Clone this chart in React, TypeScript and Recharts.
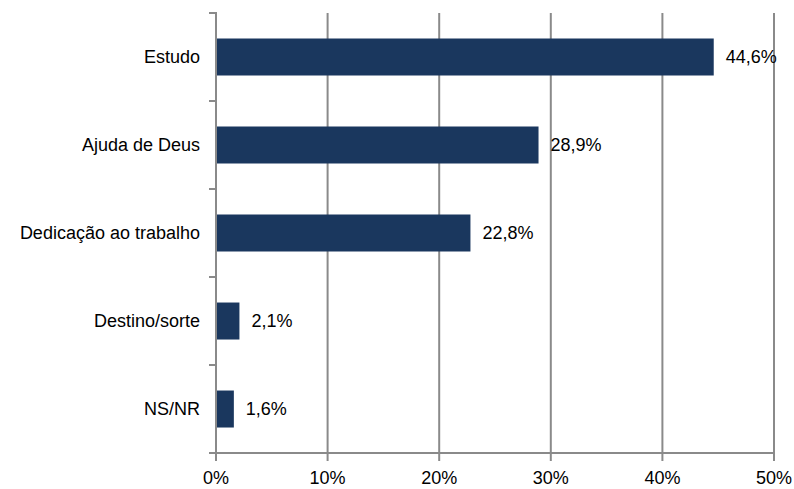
import React from "react";
import {
  BarChart,
  Bar,
  XAxis,
  YAxis,
  CartesianGrid,
  LabelList,
} from "recharts";

const categories = [
  "Estudo",
  "Ajuda de Deus",
  "Dedicação ao trabalho",
  "Destino/sorte",
  "NS/NR",
];
const values = [44.6, 28.9, 22.8, 2.1, 1.6];
const xTicks = [0, 10, 20, 30, 40, 50];

const data = categories.map((name, i) => ({ name, value: values[i] }));

const WIDTH = 794;
const HEIGHT = 489;
const MARGIN = { top: 13, right: 20, bottom: 0, left: 0 };
const X_AXIS_HEIGHT = 36;
const BAND = (HEIGHT - MARGIN.top - X_AXIS_HEIGHT) / categories.length;

const FONT = "'Liberation Sans', Arial, sans-serif";
const AXIS_COLOR = "#8a8a8a";
const BAR_COLOR = "#1a375e";

const fmt = (v: number) => `${v.toFixed(1).replace(".", ",")}%`;

function CategoryTick(props: any) {
  const { x, y, payload, index } = props;
  const axisX = x + 9;
  return (
    <g>
      <line x1={axisX - 8} x2={axisX} y1={y - BAND / 2} y2={y - BAND / 2} stroke={AXIS_COLOR} strokeWidth={2} />
      {index === categories.length - 1 && (
        <line x1={axisX - 8} x2={axisX} y1={y + BAND / 2} y2={y + BAND / 2} stroke={AXIS_COLOR} strokeWidth={2} />
      )}
      <text x={x - 8} y={y} dy="0.35em" textAnchor="end" fill="#000" fontSize={18} fontFamily={FONT}>
        {payload.value}
      </text>
    </g>
  );
}

export default function App() {
  return (
    <div style={{ position: "absolute", left: 0, top: 0, width: WIDTH, height: HEIGHT, background: "#fff" }}>
      <BarChart
        width={WIDTH}
        height={HEIGHT}
        data={data}
        layout="vertical"
        margin={MARGIN}
        barCategoryGap="29%"
      >
        <CartesianGrid horizontal={false} stroke={AXIS_COLOR} strokeWidth={2} />
        <XAxis
          type="number"
          domain={[0, 50]}
          ticks={xTicks}
          tickFormatter={(v) => `${v}%`}
          height={X_AXIS_HEIGHT}
          tickSize={8}
          tickMargin={10}
          axisLine={{ stroke: AXIS_COLOR, strokeWidth: 2 }}
          tickLine={{ stroke: AXIS_COLOR, strokeWidth: 2 }}
          tick={{ fill: "#000", fontSize: 18, fontFamily: FONT }}
          interval={0}
        />
        <YAxis
          type="category"
          dataKey="name"
          width={216}
          axisLine={{ stroke: AXIS_COLOR, strokeWidth: 2 }}
          tickLine={false}
          tick={<CategoryTick />}
          interval={0}
        />
        <Bar dataKey="value" fill={BAR_COLOR} isAnimationActive={false}>
          <LabelList
            dataKey="value"
            position="right"
            offset={12}
            formatter={(v: any) => fmt(Number(v))}
            fill="#000"
            fontSize={18}
            fontFamily={FONT}
          />
        </Bar>
      </BarChart>
    </div>
  );
}
